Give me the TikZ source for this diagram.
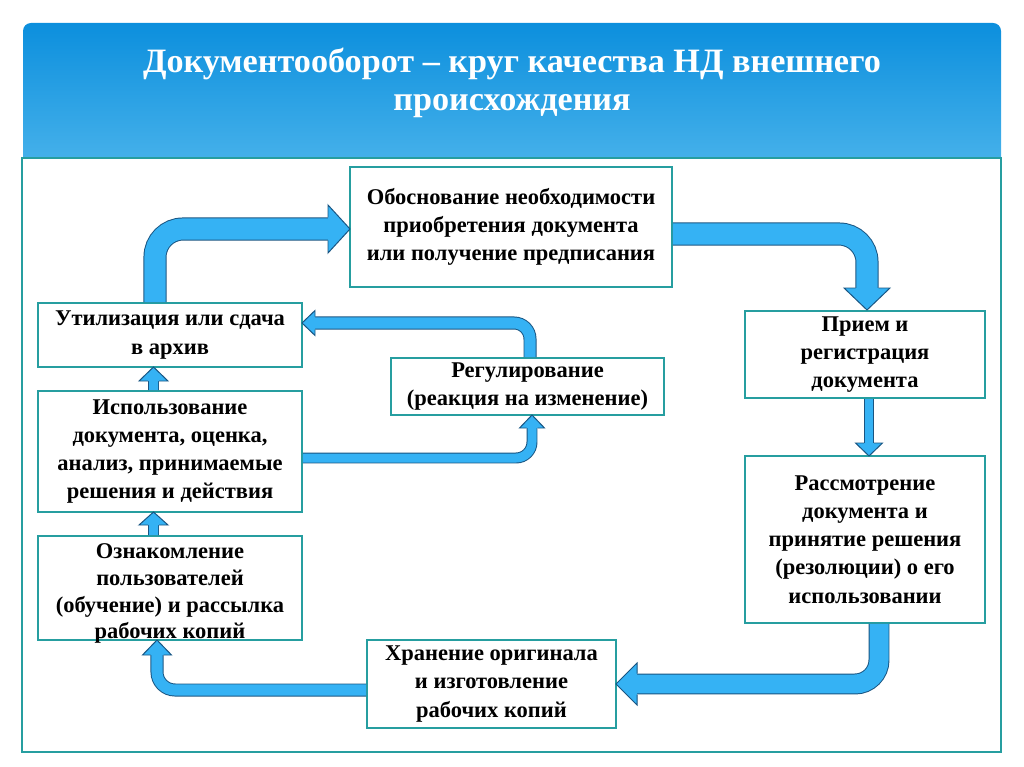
\documentclass[tikz,border=0pt]{standalone}
\usepackage{fontspec}
\setmainfont{Liberation Serif}
\usetikzlibrary{calc}

\definecolor{hdtop}{RGB}{12,143,221}
\definecolor{hdbot}{RGB}{68,176,234}
\definecolor{boxline}{RGB}{38,158,160}
\definecolor{arrfill}{RGB}{53,178,244}
\definecolor{arrline}{RGB}{25,85,130}

\tikzset{
	box/.style={draw=boxline, line width=1.1pt, fill=white, align=center, inner sep=0pt,
		font=\bfseries\fontsize{16}{20}\selectfont},
	shaft/.style={draw=arrline, line width=0.7pt, double=arrfill, double distance=#1}
}

% head of a block arrow: base, angle, half width, length, half shaft
\newcommand{\blockhead}[5]{%
	\begin{scope}[shift={#1}, rotate=#2]
		\fill[arrfill] (0,-#3) -- (#4,0) -- (0,#3) -- cycle;
		\draw[arrline, line width=0.7pt, line join=miter] (0,#5) -- (0,#3) -- (#4,0) -- (0,-#3) -- (0,-#5);
	\end{scope}}

\begin{document}
\begin{tikzpicture}[x=0.025cm, y=-0.025cm]
	\useasboundingbox (0,0) rectangle (1024,767);
	% header
	\begin{scope}
		\clip[rounded corners=0.2cm] (23,23) rectangle (1001,200);
		\shade[top color=hdtop, bottom color=hdbot] (23,23) rectangle (1001,158);
	\end{scope}
	\node[font=\bfseries\fontsize{24.3}{27.5}\selectfont, text=white, align=center] (title) at (512,83)
		{Документооборот -- круг качества НД внешнего\\происхождения};
	\draw[boxline, line width=1.6pt, fill=white] (22,158) rectangle (1001,752);

	% boxes
	\node[box, minimum width=8.05cm, minimum height=3cm] (obosn) at (511,227)
		{Обоснование необходимости\\приобретения документа\\или получение предписания};
	\node[box, minimum width=6cm, minimum height=2.175cm] (priem) at (865,354.5)
		{Прием и\\регистрация\\документа};
	\node[box, minimum width=6cm, minimum height=4.175cm] (rassm) at (865,539.5)
		{Рассмотрение\\документа и\\принятие решения\\(резолюции) о его\\использовании};
	\node[box, minimum width=6.225cm, minimum height=2.2cm] (hran) at (491.5,684)
		{Хранение оригинала\\и изготовление\\рабочих копий};
	\node[box, minimum width=6.6cm, minimum height=2.6cm] (oznak) at (170,588)
		{\parbox[c][2.6cm][t]{6.6cm}{\centering\fontsize{16}{19}\selectfont\vspace*{5.5pt}%
		Ознакомление\\пользователей\\(обучение) и рассылка\\рабочих копий}};
	\node[box, minimum width=6.6cm, minimum height=3.025cm] (ispol) at (170,451.5)
		{Использование\\документа, оценка,\\анализ, принимаемые\\решения и действия};
	\node[box, minimum width=6.6cm, minimum height=1.6cm] (util) at (170,335)
		{Утилизация или сдача\\в архив};
	\node[box, minimum width=6.825cm, minimum height=1.425cm] (regul) at (527.5,386.5)
		{Регулирование\\(реакция на изменение)};

	% outer loop
	\draw[shaft=15pt, rounded corners=0.7cm] ($(util.north)+(-15,0)$) |- (328,229);
	\blockhead{(328,229)}{0}{24}{22}{11.5}
	\draw[shaft=15pt, rounded corners=0.7cm] ($(obosn.east)+(0,7)$) -| (867,288);
	\blockhead{(867,288)}{-90}{23}{22}{11.5}
	\draw[shaft=5.7pt] ($(priem.south)+(4,0)$) -- (869,443);
	\blockhead{(869,443)}{-90}{13.5}{13}{5}
	\draw[shaft=13.5pt, rounded corners=0.6cm] ($(rassm.south)+(14,0)$) |- (637,684);
	\blockhead{(637,684)}{180}{21}{21}{10.5}
	\draw[shaft=7.85pt, rounded corners=0.45cm] ($(hran.west)+(0,6)$) -| (157,655);
	\blockhead{(157,655)}{90}{14.5}{15}{6.5}
	\draw[shaft=6.4pt] ($(oznak.north)+(-16.5,0)$) -- (153.5,525);
	\blockhead{(153.5,525)}{90}{14.5}{13}{5.5}
	\draw[shaft=6.4pt] ($(ispol.north)+(-16.5,0)$) -- (153.5,381);
	\blockhead{(153.5,381)}{90}{14.5}{14}{5.5}

	% inner loop
	\draw[shaft=6.4pt, rounded corners=0.4cm] ($(ispol.east)+(0,6.5)$) -| (532,428);
	\blockhead{(532,428)}{90}{12.5}{13}{5.5}
	\draw[shaft=7.85pt, rounded corners=0.4cm] ($(regul.north)+(2.5,0)$) |- (315,323);
	\blockhead{(315,323)}{180}{12.5}{13}{6.5}
\end{tikzpicture}
\end{document}
